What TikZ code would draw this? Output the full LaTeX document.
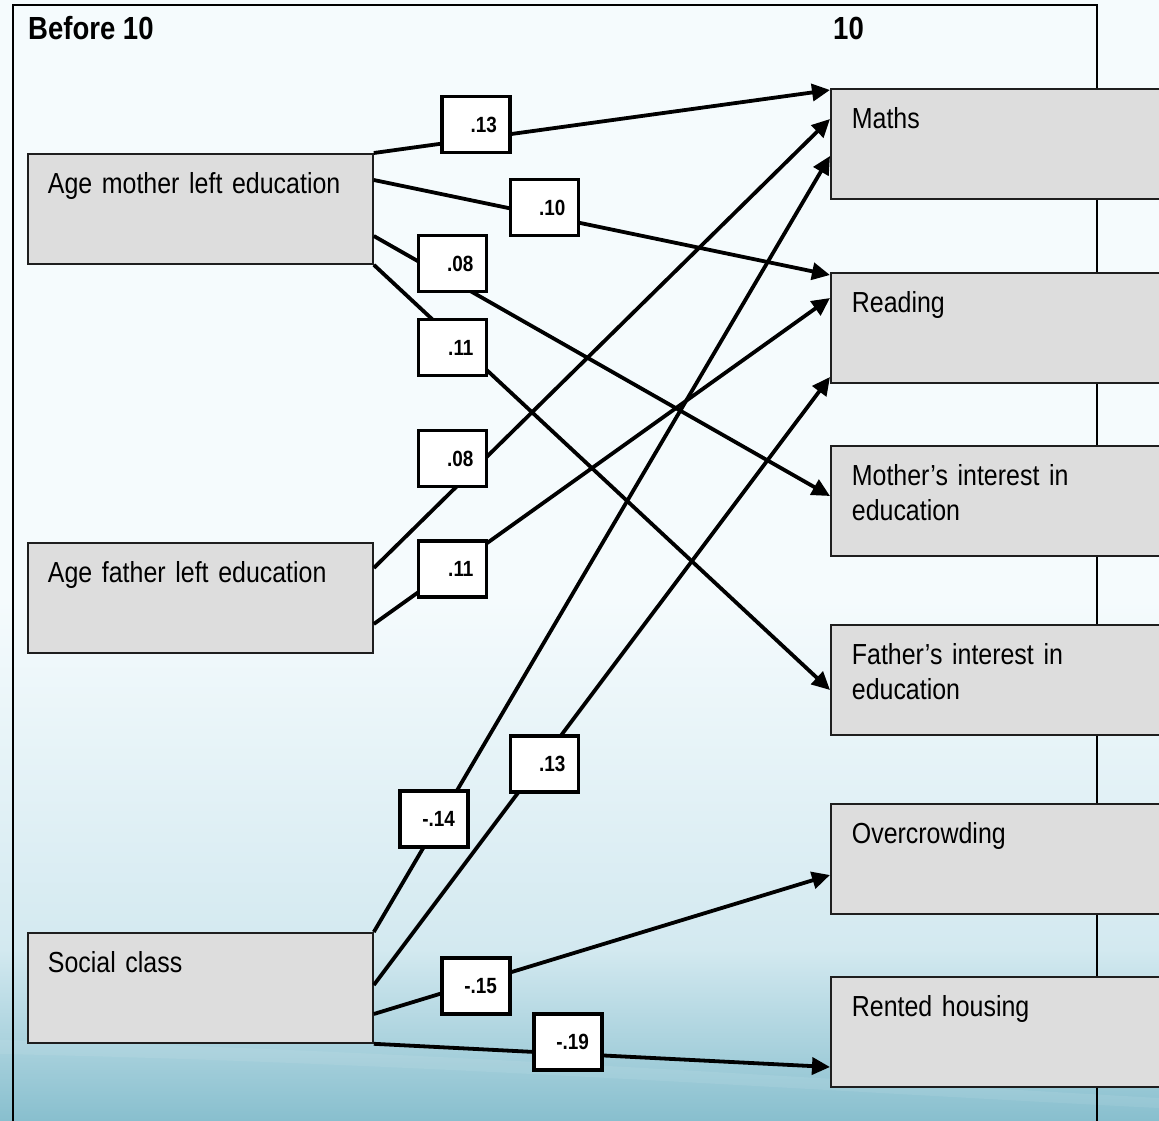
\documentclass[tikz,border=0pt]{standalone}
\usepackage{fontspec}
\setmainfont{Liberation Sans}[FakeStretch=0.86]
\usetikzlibrary{arrows.meta}

\definecolor{boxfill}{HTML}{DDDDDD}
\definecolor{boxline}{HTML}{1E1E1E}
\definecolor{skytop}{HTML}{F5FBFD}
\definecolor{skymid}{HTML}{D3E9F0}
\definecolor{skylow}{HTML}{88BFCE}

\newcommand{\boxfont}{\fontsize{29}{35}\selectfont\spaceskip=6.2pt plus 1pt minus 1pt\relax}
\newcommand{\headfont}{\fontsize{32}{36}\selectfont\bfseries}
\newcommand{\labfont}{\fontsize{22}{24}\selectfont\bfseries}

\begin{document}
\begin{tikzpicture}[x=1pt,y=-1pt,
  leftbox/.style={draw=boxline, fill=boxfill, line width=1.8pt, anchor=north west,
    inner xsep=20pt, inner ysep=0pt, text width=305pt, align=left,
    text height=40pt, text depth=70pt, font=\boxfont},
  rightbox/.style={leftbox, inner xsep=21pt, text width=380pt},
  head/.style={anchor=base west, inner sep=0pt, font=\headfont},
  weight/.style={draw=black, fill=white, line width=3.8pt, inner xsep=13pt,
    inner ysep=0pt, text width=42pt, align=right, minimum height=56pt, font=\labfont},
  conn/.style={line width=3.8pt, -{Triangle[length=18pt,width=17pt]}}
]
\useasboundingbox (0,0) rectangle (1159,1121);
\begin{scope}
\clip (0,0) rectangle (1159,1121);

% sky-blue backdrop, pale at the top and deepening towards the bottom
\fill[skytop] (0,0) rectangle (1159,600);
\shade[top color=skytop, bottom color=skymid] (0,599) rectangle (1159,950);
\shade[top color=skymid, bottom color=skylow] (0,949) rectangle (1159,1121);
\fill[white, opacity=0.08] (0,1040) .. controls (400,1050) and (800,1078) .. (1159,1098)
  -- (1159,1108) .. controls (800,1090) and (400,1062) .. (0,1054) -- cycle;

% outer panel
\draw[line width=2pt, black] (13,1130) -- (13,5) -- (1097,5) -- (1097,1130);

% column headings
\node[head] (hbefore) at (28,40) {Before 10};
\node[head] (hten) at (833,40) {10};

% antecedents
\node[leftbox] (mother) at (27,153) {Age mother left education};
\node[leftbox] (father) at (27,542) {Age father left education};
\node[leftbox] (social) at (27,932) {Social class};

% outcomes at age 10
\node[rightbox] (maths)   at (830,88)  {Maths};
\node[rightbox] (reading) at (830,272) {Reading};
\node[rightbox] (minter)  at (830,445) {Mother’s interest in\\education};
\node[rightbox] (finter)  at (830,624) {Father’s interest in\\education};
\node[rightbox] (crowd)   at (830,803) {Overcrowding};
\node[rightbox] (rented)  at (830,976) {Rented housing};

% paths
\draw[conn] (mother.north east) -- ([yshift=-2pt]maths.north west);
\draw[conn] ([yshift=-27pt]mother.north east) -- ([yshift=-3pt]reading.north west);
\draw[conn] ([yshift=-83pt]mother.north east) -- ([yshift=-51pt]minter.north west);
\draw[conn] (mother.south east) -- ([yshift=-66pt]finter.north west);

\draw[conn] ([yshift=-26pt]father.north east) -- ([yshift=-31pt]maths.north west);
\draw[conn] ([yshift=-82pt]father.north east) -- ([yshift=-26pt]reading.north west);

\draw[conn] (social.north east) -- ([yshift=-68pt]maths.north west);
\draw[conn] ([yshift=-53pt]social.north east) -- ([yshift=-105pt]reading.north west);
\draw[conn] ([yshift=-82pt]social.north east) -- ([yshift=-72pt]crowd.north west);
\draw[conn] (social.south east) -- ([yshift=-91pt]rented.north west);

% path coefficients
\node[weight] (w1)  at (476,124.5) {.13};
\node[weight] (w2)  at (544.5,207.5) {.10};
\node[weight] (w3)  at (452.5,263.5) {.08};
\node[weight] (w4)  at (452.5,347.5) {.11};
\node[weight] (w5)  at (452.5,458.5) {.08};
\node[weight] (w6)  at (452.5,569) {.11};
\node[weight] (w7)  at (544.5,764) {.13};
\node[weight] (w8)  at (434,819) {-.14};
\node[weight] (w9)  at (476,986) {-.15};
\node[weight] (w10) at (568,1042) {-.19};
\end{scope}
\end{tikzpicture}
\end{document}
